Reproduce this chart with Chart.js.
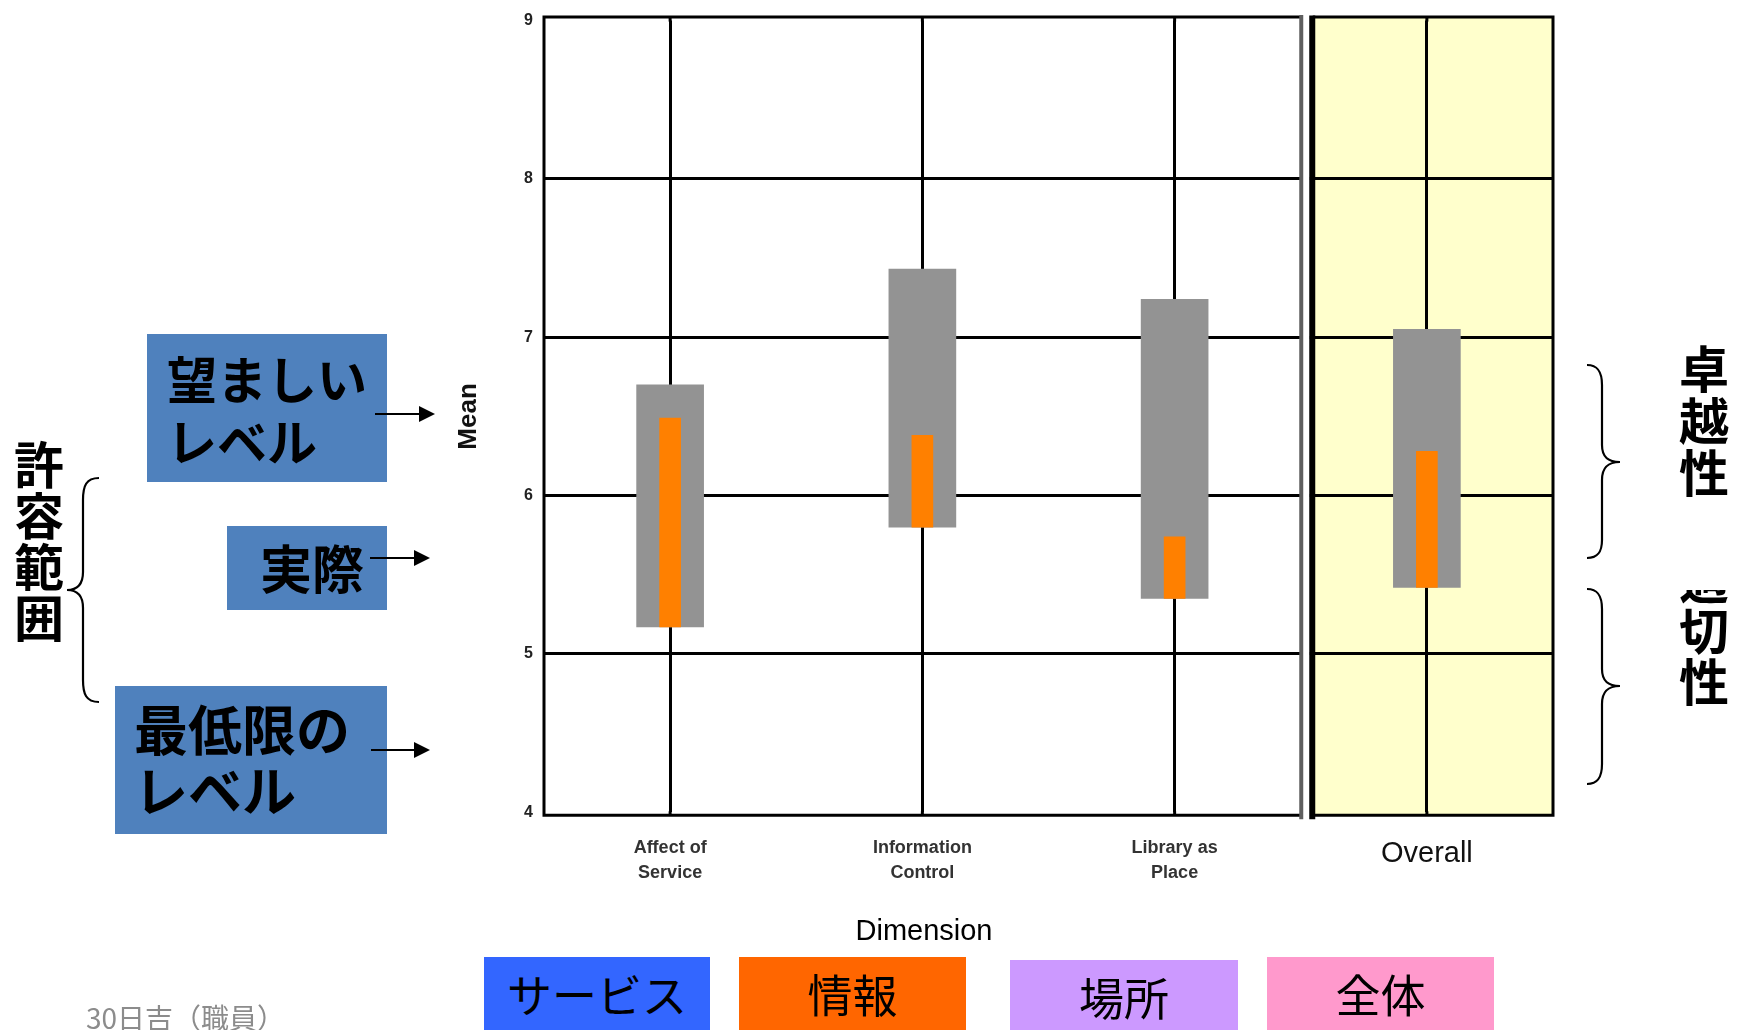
<!DOCTYPE html>
<html>
<head>
<meta charset="utf-8">
<script src="https://cdn.jsdelivr.net/npm/chart.js@4.4.1/dist/chart.umd.min.js"></script>
<style>
  html, body { margin:0; padding:0; background:#fff; }
  body { width:1747px; height:1030px; overflow:hidden; position:relative; font-family:"Noto Sans CJK JP","Noto Sans",sans-serif; }
  #c { position:absolute; left:0; top:0; width:1747px; height:1030px; }
  .abs { position:absolute; }
  .box { position:absolute; background:#4F81BD; color:#000; font-weight:700; }
  .vt { position:absolute; font-weight:700; color:#000; text-align:center; }
  .leg { position:absolute; color:#000; font-size:45px; text-align:center; line-height:74px; height:80px; }
</style>
</head>
<body>
<canvas id="c" width="1747" height="1030"></canvas>

<!-- left annotations -->
<div class="box" style="left:147px;top:334px;width:240px;height:148px;">
  <div class="abs" style="left:20px;top:12px;font-size:50px;line-height:62px;white-space:nowrap;">望ましい<br>レベル</div>
</div>
<div class="box" style="left:227px;top:526px;width:160px;height:84px;">
  <div class="abs" style="left:33px;top:10px;font-size:52px;line-height:62px;white-space:nowrap;">実際</div>
</div>
<div class="box" style="left:115px;top:686px;width:272px;height:148px;">
  <div class="abs" style="left:19px;top:11px;font-size:54px;line-height:61px;white-space:nowrap;">最低限の<br>レベル</div>
</div>
<div class="vt" style="left:12px;top:437px;width:54px;font-size:50px;line-height:51px;">許<br>容<br>範<br>囲</div>

<!-- right annotations -->
<div class="vt" style="left:1676px;top:552px;width:56px;font-size:50px;line-height:51px;">適<br>切<br>性</div>
<div class="abs" style="left:1670px;top:505px;width:70px;height:85px;background:#fff;"></div>
<div class="vt" style="left:1676px;top:340px;width:56px;font-size:50px;line-height:52px;">卓<br>越<br>性</div>

<svg class="abs" style="left:0;top:0;" width="1747" height="1030">
  <g fill="none" stroke="#000" stroke-width="2.2">
    <path d="M99,478 C86,478 83,486 83,500 L83,572 C83,584 78,590 67,590 C78,590 83,596 83,608 L83,680 C83,694 86,702 99,702"/>
    <path d="M1587,365 C1598,365 1602,372 1602,385 L1602,445 C1602,457 1608,462 1620,462 C1608,462 1602,467 1602,480 L1602,540 C1602,552 1598,558 1587,558"/>
    <path d="M1587,589 C1598,589 1602,596 1602,609 L1602,669 C1602,681 1608,686 1620,686 C1608,686 1602,691 1602,704 L1602,764 C1602,777 1598,784 1587,784"/>
    <line x1="375" y1="414" x2="422" y2="414"/>
    <line x1="370" y1="558" x2="417" y2="558"/>
    <line x1="371" y1="750" x2="417" y2="750"/>
  </g>
  <g fill="#000">
    <path d="M419,406 L435,414 L419,422 Z"/>
    <path d="M414,550 L430,558 L414,566 Z"/>
    <path d="M414,742 L430,750 L414,758 Z"/>
  </g>
</svg>

<!-- x axis title -->
<div class="abs" style="left:774px;top:912px;width:300px;text-align:center;font-family:'Liberation Sans',Arial,sans-serif;font-size:29px;line-height:36px;color:#000;">Dimension</div>

<!-- bottom labels -->
<div class="leg" style="left:484px;top:957px;width:226px;background:#3366FF;">サービス</div>
<div class="leg" style="left:739px;top:957px;width:227px;background:#FF6600;">情報</div>
<div class="leg" style="left:1010px;top:960px;width:228px;background:#CC99FF;">場所</div>
<div class="leg" style="left:1267px;top:957px;width:227px;background:#FF99CC;">全体</div>
<div class="abs" style="left:86px;top:998px;font-size:28px;line-height:38px;color:#8c8c8c;white-space:nowrap;">30日吉（職員）</div>

<script>
// ---- data ----
const categories = [['Affect of', 'Service'], ['Information', 'Control'], ['Library as', 'Place'], 'Overall'];
const minimumLevel = [5.17, 5.80, 5.35, 5.42];
const desiredLevel = [6.70, 7.43, 7.24, 7.05];
const perceivedLevel = [6.49, 6.38, 5.74, 6.28];
const yTicks = [4, 5, 6, 7, 8, 9];

const FONT = "'Liberation Sans', Arial, sans-serif";

const framePlugin = {
  id: 'frames',
  beforeDraw(chart) {
    const {ctx, chartArea: a, scales: {x}} = chart;
    const step = x.getPixelForValue(1) - x.getPixelForValue(0);
    const split = x.getPixelForValue(2) + step / 2;
    ctx.save();
    ctx.fillStyle = '#FFFFCC';
    ctx.fillRect(split + 13, a.top - 3, a.right - split - 13, a.bottom - a.top + 6);
    ctx.restore();
  },
  afterDraw(chart) {
    const {ctx, chartArea: a, scales: {x}} = chart;
    const step = x.getPixelForValue(1) - x.getPixelForValue(0);
    const split = x.getPixelForValue(2) + step / 2;
    const top = a.top - 3.5, bottom = a.bottom + 3;
    ctx.save();
    // extend vertical grid lines to the frame
    ctx.strokeStyle = '#000';
    ctx.lineWidth = 3;
    categories.forEach((_, i) => {
      const px = x.getPixelForValue(i);
      ctx.beginPath(); ctx.moveTo(px, top); ctx.lineTo(px, a.top + 1); ctx.stroke();
      ctx.beginPath(); ctx.moveTo(px, a.bottom - 1); ctx.lineTo(px, bottom); ctx.stroke();
    });
    // gap between panels
    ctx.fillStyle = '#fff';
    ctx.fillRect(split + 2, a.top - 8, 7, a.bottom - a.top + 16);
    ctx.beginPath();
    ctx.moveTo(split, top); ctx.lineTo(a.left, top); ctx.lineTo(a.left, bottom); ctx.lineTo(split, bottom);
    ctx.stroke();
    // overall frame
    ctx.beginPath();
    ctx.moveTo(split + 12, top); ctx.lineTo(a.right, top); ctx.lineTo(a.right, bottom); ctx.lineTo(split + 12, bottom);
    ctx.stroke();
    ctx.lineWidth = 6;
    ctx.beginPath();
    ctx.moveTo(split + 11.5, top - 1.5); ctx.lineTo(split + 11.5, bottom + 4);
    ctx.stroke();
    // gray divider
    ctx.strokeStyle = '#5f5f5f';
    ctx.lineWidth = 4;
    ctx.beginPath();
    ctx.moveTo(split + 0.5, top - 2); ctx.lineTo(split + 0.5, bottom + 4);
    ctx.stroke();
    ctx.restore();
  }
};

new Chart(document.getElementById('c'), {
  type: 'bar',
  data: {
    labels: categories,
    datasets: [
      {
        label: 'Perceived',
        data: minimumLevel.map((m, i) => [m, perceivedLevel[i]]),
        backgroundColor: '#FF8000',
        barThickness: 21,
        grouped: false,
        order: 0
      },
      {
        label: 'Minimum–Desired',
        data: minimumLevel.map((m, i) => [m, desiredLevel[i]]),
        backgroundColor: '#939393',
        barThickness: 67,
        grouped: false,
        order: 1
      }
    ]
  },
  options: {
    responsive: false,
    animation: false,
    devicePixelRatio: 1,
    layout: { padding: { left: 444, right: 194, top: 19.8, bottom: 97.7 } },
    plugins: { legend: { display: false }, tooltip: { enabled: false } },
    scales: {
      x: {
        stacked: false,
        grid: { offset: false, color: '#000', lineWidth: 3, drawTicks: false },
        border: { display: false },
        ticks: {
          maxRotation: 0, minRotation: 0, autoSkip: false, padding: 23,
          color: (c) => c.index === 3 ? '#111' : '#333',
          font: (c) => c.index === 3
            ? { family: FONT, size: 29, weight: 'normal', lineHeight: '38px' }
            : { family: FONT, size: 18, weight: 'bold', lineHeight: '25px' }
        },
        afterFit(scale) { scale.height = 120; }
      },
      y: {
        min: 4, max: 9,
        afterBuildTicks(scale) { scale.ticks = yTicks.map(v => ({ value: v })); },
        grid: {
          color: (c) => (c.tick && (c.tick.value === 4 || c.tick.value === 9)) ? 'rgba(0,0,0,0)' : '#000',
          lineWidth: 3, drawTicks: false
        },
        border: { display: false },
        ticks: { padding: 11, color: '#222', font: { family: FONT, size: 16, weight: 'bold' } },
        title: { display: true, text: 'Mean', color: '#111', padding: { top: 9.4, bottom: 0 },
                 font: { family: FONT, size: 26, weight: 'bold', lineHeight: 1.2 } },
        afterFit(scale) { scale.width = 100; }
      }
    }
  },
  plugins: [framePlugin]
});
</script>
</body>
</html>
